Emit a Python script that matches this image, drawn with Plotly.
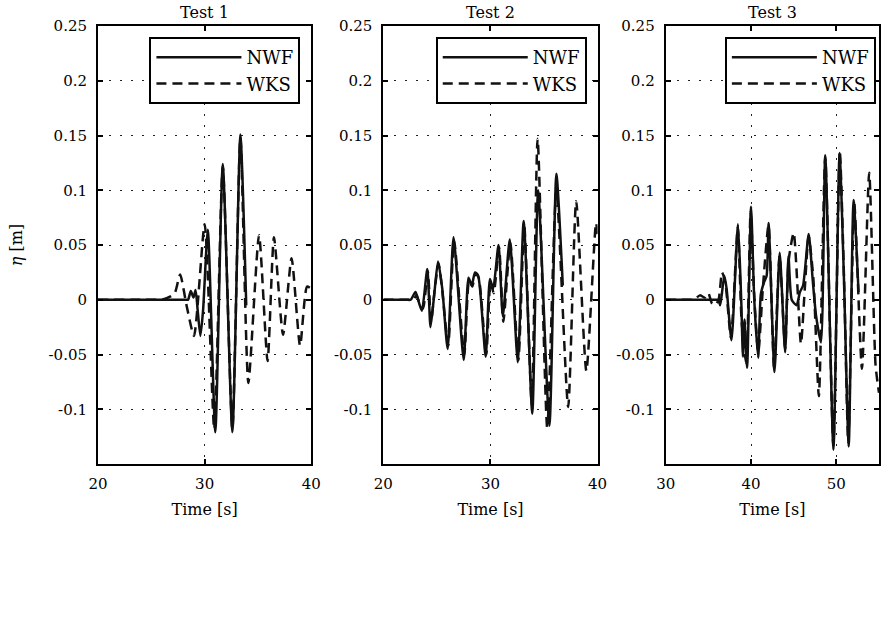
import plotly.graph_objects as go

# ---------------- data ----------------
titles = ["Test 1", "Test 2", "Test 3"]
series_names = ["NWF", "WKS"]

y_tickvals = [-0.1, -0.05, 0, 0.05, 0.1, 0.15, 0.2, 0.25]
y_ticktext = ["-0.1", "-0.05", "0", "0.05", "0.1", "0.15", "0.2", "0.25"]
x_tickvals_1 = [20, 30, 40]
x_tickvals_2 = [20, 30, 40]
x_tickvals_3 = [30, 40, 50]

# Test 1
t1_nwf_t = [20, 24.0, 28.0, 28.3, 28.45, 28.7, 28.95, 29.15, 29.35, 29.6, 29.85, 30.3, 31.0, 31.7, 32.6, 33.35, 33.9]
t1_nwf_y = [0, 0, 0, 0, 0, 0.008, 0.002, 0.009, -0.01, -0.033, -0.01, 0.064, -0.121, 0.124, -0.121, 0.151, -0.005]
t1_wks_t = [20, 24.0, 25.5, 26.0, 26.8, 27.2, 27.7, 28.3, 29.0, 30.0, 30.9, 31.7, 32.6, 33.35, 34.1, 35.1, 35.9,
            36.5, 37.35, 38.15, 38.95, 39.6, 40]
t1_wks_y = [0, 0, 0, 0, 0.003, 0.006, 0.023, -0.005, -0.033, 0.069, -0.118, 0.122, -0.118, 0.148, -0.076, 0.059,
            -0.056, 0.057, -0.032, 0.038, -0.042, 0.012, 0.01]

# Test 2
t2_nwf_t = [20, 21.5, 22.2, 22.55, 23.0, 23.3, 23.6, 24.1, 24.4, 24.75, 25.1, 25.5, 26.0, 26.55, 27.5, 27.95, 28.25,
            28.55, 28.85, 29.55, 29.95, 30.25, 30.75, 31.15, 31.8, 32.55, 33.1, 33.9, 34.45, 35.5, 36.15, 36.75]
t2_nwf_y = [0, 0, 0, 0, 0.007, -0.002, -0.01, 0.028, -0.025, 0.005, 0.035, 0.01, -0.045, 0.057, -0.055, 0.02, 0.013,
            0.025, 0.022, -0.052, 0.019, 0.01, 0.05, -0.015, 0.055, -0.057, 0.072, -0.104, 0.1, -0.115, 0.115, 0.013]
t2_wks_t = [20, 21.5, 22.4, 22.8, 23.1, 23.4, 23.7, 24.15, 24.45, 24.8, 25.15, 25.5, 26.05, 26.6, 27.55, 28.0, 28.3,
            28.6, 28.9, 29.6, 30.0, 30.3, 30.8, 31.2, 31.85, 32.6, 33.15, 33.85, 34.4, 35.3, 36.15, 37.25,
            38.0, 38.95, 39.85, 40]
t2_wks_y = [0, 0, 0, 0, 0.004, -0.004, -0.008, 0.026, -0.02, 0.01, 0.033, 0.008, -0.042, 0.054, -0.05, 0.018, 0.012,
            0.024, 0.02, -0.05, 0.016, 0.006, 0.048, -0.02, 0.052, -0.055, 0.068, -0.095, 0.147, -0.117, 0.1,
            -0.098, 0.09, -0.065, 0.07, 0.06]

# Test 3
t3_nwf_t = [30, 33.0, 35.5, 35.95, 36.18, 36.37, 36.56, 36.87, 37.14, 37.71, 38.47, 38.85, 39.05, 39.24, 39.54, 40.0,
            40.38, 40.84, 41.15, 41.53, 41.83, 42.06, 42.75, 43.36, 44.0, 44.39, 44.77, 45.34, 45.73, 46.1, 46.76,
            47.25, 47.63, 48.2, 48.7, 49.66, 50.38, 50.88, 51.45, 52.02, 52.6]
t3_nwf_y = [0, 0, 0, 0, 0, -0.005, 0.004, 0.022, 0.01, -0.037, 0.069, 0.0, -0.052, -0.018, -0.062, 0.085,
            0.0, -0.053, 0.005, 0.016, 0.022, 0.07, -0.066, 0.043, -0.048, 0.04, 0.0, -0.005, 0.007, 0.013, 0.06,
            0.016, -0.015, -0.039, 0.132, -0.137, 0.134, 0.022, -0.134, 0.091, 0.007]
t3_wks_t = [30, 31.5, 32.8, 33.3, 34.0, 34.6, 35.0, 35.4, 35.8, 36.2, 36.6, 37.0, 37.65, 38.45, 38.9, 39.45, 39.95,
            40.4, 40.85, 41.4, 42.05, 42.7, 43.35, 44.0, 44.4, 45.0, 45.85, 46.3, 46.75, 47.3, 47.95, 48.7, 49.65,
            50.4, 50.9, 51.4, 52.1, 53.0, 53.85, 54.6, 55]
t3_wks_y = [0, 0, 0, 0, 0.004, 0.002, 0.006, -0.003, -0.005, 0.0, 0.025, 0.015, -0.035, 0.066, -0.02, -0.058, 0.08,
            0.0, -0.048, 0.012, 0.068, -0.062, 0.04, -0.045, 0.035, 0.061, -0.04, 0.01, 0.058, 0.02, -0.088,
            0.13, -0.133, 0.136, 0.02, -0.13, 0.088, -0.063, 0.116, -0.06, -0.085]

# ---------------- figure ----------------
FONT = "DejaVu Serif"
INK = "#111111"

panels = [
    (t1_nwf_t, t1_nwf_y, t1_wks_t, t1_wks_y, x_tickvals_1, [20, 40]),
    (t2_nwf_t, t2_nwf_y, t2_wks_t, t2_wks_y, x_tickvals_2, [20, 40]),
    (t3_nwf_t, t3_nwf_y, t3_wks_t, t3_wks_y, x_tickvals_3, [30, 55]),
]
domains = [[0.0, 0.2731], [0.3654, 0.6397], [0.7269, 1.0]]
legend_x = [0.2592, 0.6258, 0.996]

fig = go.Figure()
for i, (nt, ny, wt, wy, xt, xr) in enumerate(panels):
    sfx = "" if i == 0 else str(i + 1)
    leg = "legend" + sfx
    fig.add_trace(go.Scatter(
        x=nt, y=ny, mode="lines", name=series_names[0],
        line=dict(color=INK, width=2.5, shape="spline", smoothing=0.6),
        xaxis="x" + sfx, yaxis="y" + sfx, legend=leg, legendrank=1))
    fig.add_trace(go.Scatter(
        x=wt, y=wy, mode="lines", name=series_names[1],
        line=dict(color=INK, width=2.5, dash="10px,6px", shape="spline", smoothing=0.6),
        xaxis="x" + sfx, yaxis="y" + sfx, legend=leg, legendrank=2))

    axis_common = dict(
        showline=True, linecolor="black", linewidth=2, mirror="ticks",
        ticks="inside", ticklen=5, tickwidth=1.5, tickcolor="black",
        showgrid=True, gridcolor="#222222", gridwidth=1.2, griddash="2px,9px",
        zeroline=False, tickfont=dict(family=FONT, size=15, color="black"),
    )
    fig.layout["xaxis" + sfx] = dict(
        axis_common, domain=domains[i], range=xr, tickvals=xt,
        anchor="y" + sfx, ticklabelstandoff=5,
        title=dict(text="Time [s]", font=dict(family=FONT, size=16, color="black"), standoff=12),
    )
    yax = dict(
        axis_common, range=[-0.15, 0.25], tickvals=y_tickvals, ticktext=y_ticktext,
        anchor="x" + sfx, ticklabelstandoff=6,
    )
    if i == 0:
        yax["title"] = dict(text="<i>η</i> [m]", font=dict(family=FONT, size=16, color="black"), standoff=22)
    fig.layout["yaxis" + sfx] = yax

    fig.layout[leg] = dict(
        x=legend_x[i], y=0.975, xanchor="right", yanchor="top", xref="paper", yref="paper",
        bgcolor="white", bordercolor="black", borderwidth=2,
        font=dict(family=FONT, size=18, color="black"), itemwidth=85,
        tracegroupgap=0,
    )
    fig.add_annotation(
        text=titles[i], x=sum(domains[i]) / 2, y=1, xref="paper", yref="paper",
        xanchor="center", yanchor="bottom", yshift=2, showarrow=False,
        font=dict(family=FONT, size=16, color="black"),
    )

fig.update_layout(
    width=889, height=621,
    margin=dict(l=98, r=0, t=26, b=157),
    paper_bgcolor="white", plot_bgcolor="white",
    showlegend=True,
)

fig.write_html("out.html")
